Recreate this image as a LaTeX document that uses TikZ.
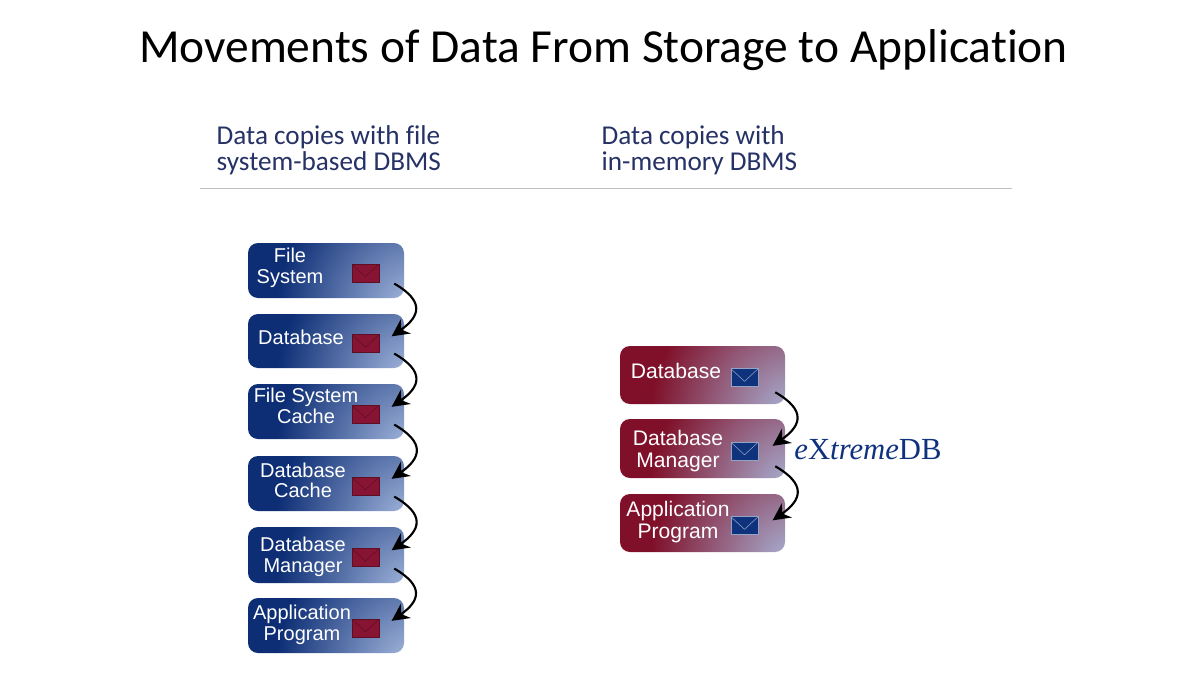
\documentclass[tikz,border=0pt]{standalone}
\usepackage{fontspec}
\setmainfont{Carlito}[Ligatures=NoCommon]
\newfontfamily\boxfont{Liberation Sans}
\newfontfamily\logofont{Liberation Serif}
\usetikzlibrary{arrows.meta}
\definecolor{headblue}{RGB}{38,50,102}
\definecolor{envred}{RGB}{135,20,50}
\definecolor{envblue}{RGB}{15,50,125}
\pgfdeclarefunctionalshading{bluebox}{\pgfpoint{-50bp}{-50bp}}{\pgfpoint{50bp}{50bp}}{}{
  38 add 3 div dup mul exch 28 sub dup mul add sqrt
  44 div dup 1 gt {pop 1} if
  dup -0.63 mul 0.68 add exch
  dup -0.57 mul 0.75 add exch
  -0.43 mul 0.89 add}
\pgfdeclarefunctionalshading{redbox}{\pgfpoint{-50bp}{-50bp}}{\pgfpoint{50bp}{50bp}}{}{
  38 add 3 div dup mul exch 28 sub dup mul add sqrt
  44 div dup 1 gt {pop 1} if
  dup -0.17 mul 0.67 add exch
  dup -0.68 mul 0.74 add exch
  -0.72 mul 0.88 add}
\tikzset{
  titletext/.style={font=\fontsize{35.6}{40}\selectfont},
  headtext/.style={anchor=west,align=left,text=headblue,
    font=\fontsize{20.4}{19.5}\selectfont},
  msgbox/.style={rounded corners=7.5pt,minimum width=117pt,inner sep=0pt},
  msgtext/.style={align=center,text=white,inner sep=0pt,
    font=\boxfont\fontsize{15}{15.5}\selectfont},
  bigtext/.style={msgtext,font=\boxfont\fontsize{15.8}{16}\selectfont},
  envbox/.style 2 args={minimum width=20.5pt,minimum height=13.5pt,inner sep=0pt,
    draw=#2,line width=0.3pt,fill=#1,
    path picture={\draw[#2,line width=0.4pt]
      (path picture bounding box.north west) -- ([yshift=4pt]path picture bounding box.south)
      -- (path picture bounding box.north east);}},
  msgarrow/.style={-{Stealth[length=13pt,width=13pt]},line width=1.6pt,black},
}
\begin{document}
\begin{tikzpicture}[x=0.75pt,y=-0.75pt]
  \useasboundingbox[fill=white] (0,0) rectangle (1200,675);
  \node[titletext] (title) at (603.5,50) {Movements of Data From Storage to Application};
  \node[headtext] (headfile) at (212,150.5) {Data copies with file\\system-based DBMS};
  \node[headtext] (headmem) at (597,150.5) {Data copies with\\in-memory DBMS};
  \coordinate (rulel) at (200,188);
  \coordinate (ruler) at (1012,188);
  \draw[black!25,line width=0.7pt] (rulel) -- (ruler);
  % file system stack
  \foreach \N/\Y/\H/\X/\Ty/\T in {fs/270.5/55/290/267.5/{File\\System},
    dba/341/54/301/337/Database,
    fsc/411.5/55/306/406/{File System\\Cache},
    dbc/483.5/55/303/480.5/{Database\\Cache},
    dbm/555/56/303/557/{Database\\Manager},
    app/625.5/55/302/624.5/{Application\\Program}}
  {\node[msgbox,shade,shading=bluebox,minimum height=\H*0.75pt] (\N) at (326,\Y) {};
   \node[msgtext] (\N txt) at (\X,\Ty) {\T};
   \node[envbox={envred}{envred!70!black}] (\N env) at ([xshift=29.6pt,yshift=-1.9pt]\N.center) {};
   \coordinate (\N out) at ([xshift=-7.5pt,yshift=11pt]\N.south east);
   \coordinate (\N in) at ([xshift=-9.5pt,yshift=3.5pt]\N.east);}
  % in-memory stack
  \foreach \N/\Y/\H/\X/\Ty/\T in {mdb/375/58/676/371/Database,
    mdm/448.5/59/678/451/{Database\\Manager},
    map/523/58/678/522/{Application\\Program}}
  {\node[msgbox,minimum width=123.75pt,shade,shading=redbox,minimum height=\H*0.75pt] (\N) at (702.5,\Y) {};
   \node[bigtext] (\N txt) at (\X,\Ty) {\T};
   \node[envbox={envblue}{envblue!45!white}] (\N env) at ([xshift=31.5pt,yshift=-2pt]\N.center) {};
   \coordinate (\N out) at ([xshift=-7.5pt,yshift=9pt]\N.south east);
   \coordinate (\N in) at ([xshift=-9.5pt,yshift=2pt]\N.east);}
  \foreach \A/\B in {fs/dba,dba/fsc,fsc/dbc,dbc/dbm,dbm/app,mdb/mdm,mdm/map}
  {\draw[msgarrow] (\A out) to[out=-30,in=35,looseness=1.7] (\B in);}
  \node[text=envblue,font=\logofont\fontsize{23}{25}\selectfont] (logo) at (868,450)
    {{\itshape e}X{\itshape treme}DB};
\end{tikzpicture}
\end{document}
